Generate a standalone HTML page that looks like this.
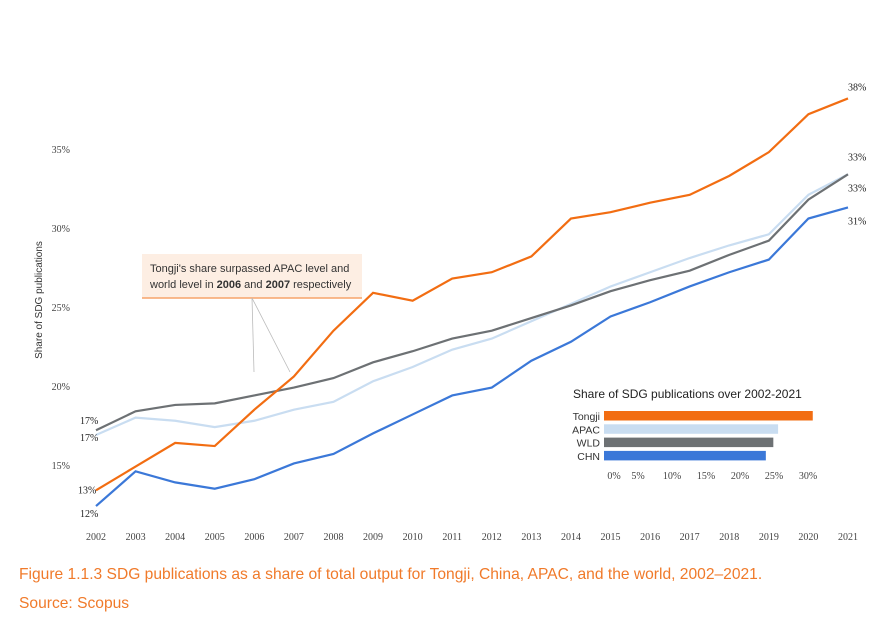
<!DOCTYPE html>
<html><head><meta charset="utf-8"><style>
body{margin:0;background:#fff;}
svg{display:block;font-family:"Liberation Serif",serif;}
.cap{position:absolute;left:19px;font-family:"Liberation Sans",sans-serif;color:#f07a2a;font-size:15.6px;}
</style></head><body>
<div style="position:relative;width:892px;height:627px;">
<svg id="chart" width="892" height="627"></svg>
<div class="cap" style="top:566px">Figure 1.1.3 SDG publications as a share of total output for Tongji, China, APAC, and the world, 2002–2021.</div>
<div class="cap" style="top:595px">Source: Scopus</div>
</div>
<script>
const years=[2002,2003,2004,2005,2006,2007,2008,2009,2010,2011,2012,2013,2014,2015,2016,2017,2018,2019,2020,2021];
const tongji=[13.4,14.9,16.4,16.2,18.5,20.6,23.5,25.9,25.4,26.8,27.2,28.2,30.6,31.0,31.6,32.1,33.3,34.8,37.2,38.2];
const wld=[17.2,18.4,18.8,18.9,19.4,19.9,20.5,21.5,22.2,23.0,23.5,24.3,25.1,26.0,26.7,27.3,28.3,29.2,31.8,33.4];
const apac=[16.9,18.0,17.8,17.4,17.8,18.5,19.0,20.3,21.2,22.3,23.0,24.1,25.2,26.3,27.2,28.1,28.9,29.6,32.1,33.4];
const chn=[12.4,14.6,13.9,13.5,14.1,15.1,15.7,17.0,18.2,19.4,19.9,21.6,22.8,24.4,25.3,26.3,27.2,28.0,30.6,31.3];
const yTicks=[15,20,25,30,35];
const barCats=["Tongji","APAC","WLD","CHN"];
const barVals=[30.7,25.6,24.9,23.8];
const barTicks=[0,5,10,15,20,25,30];
const NS="http://www.w3.org/2000/svg";
const svg=document.getElementById('chart');
const X=i=>96+i*(848-96)/(years.length-1);
const Y=v=>544-(v-10)*15.8;
function mk(t,a,txt){const e=document.createElementNS(NS,t);for(const k in a)e.setAttribute(k,a[k]);if(txt!=null)e.textContent=txt;svg.appendChild(e);return e;}
yTicks.forEach(v=>{const t=mk('text',{x:70,y:Y(v)+4,'text-anchor':'end','font-size':10,fill:'#444'},v+'%');

});
years.forEach((y,i)=>{const t=mk('text',{x:X(i),y:540,'text-anchor':'middle','font-size':10,fill:'#444'},y);

});
const yt=mk('text',{x:0,y:0,transform:'translate(42,300) rotate(-90)','text-anchor':'middle','font-size':10,fill:'#333','font-family':'Liberation Sans,sans-serif'},'Share of SDG publications');


const ab=mk('rect',{x:142,y:254,width:220,height:44,fill:'#fdeee3'});


mk('line',{x1:142,y1:298,x2:362,y2:298,stroke:'#f7a36a','stroke-width':1.5});
mk('line',{x1:252,y1:298,x2:254,y2:372,stroke:'#bbb','stroke-width':0.8});
mk('line',{x1:252,y1:298,x2:290,y2:372,stroke:'#bbb','stroke-width':0.8});
const a1=mk('text',{x:150,y:272,'font-size':11,fill:'#333','font-family':'Liberation Sans,sans-serif'},"Tongji's share surpassed APAC level and");


const a2=mk('text',{x:150,y:288,'font-size':11,fill:'#333','font-family':'Liberation Sans,sans-serif'});
a2.innerHTML='world level in <tspan font-weight="bold">2006</tspan> and <tspan font-weight="bold">2007</tspan> respectively';


const series=[[apac,'#c9ddf1','apac-line'],[wld,'#6d7174','wld-line'],[chn,'#3b78d8','chn-line'],[tongji,'#f26d12','tongji-line']];
series.forEach(([d,c,n])=>{const p=mk('polyline',{points:d.map((v,i)=>X(i)+','+Y(v)).join(' '),fill:'none',stroke:c,'stroke-width':2.2});

});
const lbl=[[X(19),Y(tongji[19])-8,tongji[19]],[X(19),Y(wld[19])-14,wld[19]],[X(19),Y(apac[19])+17,apac[19]],[X(19),Y(chn[19])+17,chn[19]],
[X(0)-16,Y(wld[0])-6,wld[0]],[X(0)-16,Y(apac[0])+6,apac[0]],[X(0)-18,Y(tongji[0])+3,tongji[0]],[X(0)-16,Y(chn[0])+11,chn[0]]];
lbl.forEach(([x,y,v])=>{const t=mk('text',{x:x,y:y,'font-size':10,fill:'#222'},Math.round(v)+'%');

});
const bt=mk('text',{x:573,y:398,'font-size':12,fill:'#222','font-family':'Liberation Sans,sans-serif'},'Share of SDG publications over 2002-2021');


const BX=v=>604+v*6.8;
const bcol=['#f26d12','#c9ddf1','#6d7174','#3b78d8'];
barCats.forEach((c,i)=>{const y=411+i*13.3;
const r=mk('rect',{x:BX(0),y:y,width:BX(barVals[i])-BX(0),height:9.5,fill:bcol[i]});


const t=mk('text',{x:600,y:y+9,'text-anchor':'end','font-size':10.5,fill:'#333','font-family':'Liberation Sans,sans-serif'},c);

});
barTicks.forEach(v=>{const t=mk('text',{x:BX(v)+(v===0?10:0),y:479,'text-anchor':'middle','font-size':10,fill:'#444'},v+'%');

});
</script>
</body></html>
